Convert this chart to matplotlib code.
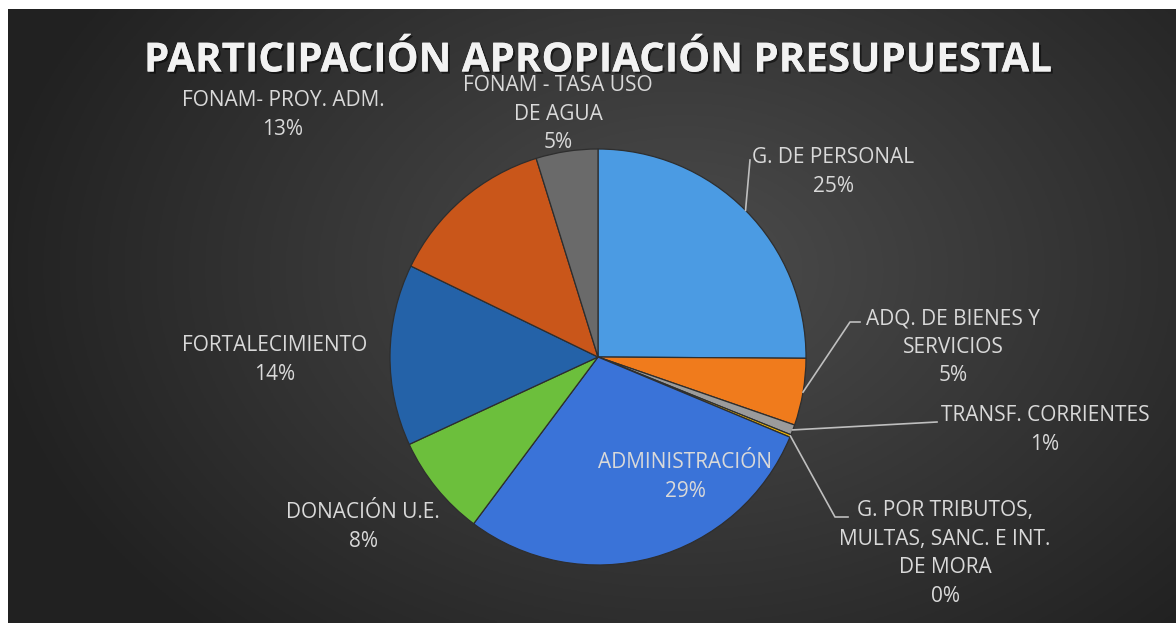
import numpy as np
import matplotlib.pyplot as plt
import matplotlib.patheffects as pe

# datos del gráfico
categorias = ["G. DE PERSONAL", "ADQ. DE BIENES Y\nSERVICIOS", "TRANSF. CORRIENTES",
              "G. POR TRIBUTOS,\nMULTAS, SANC. E INT.\nDE MORA", "ADMINISTRACIÓN",
              "DONACIÓN U.E.", "FORTALECIMIENTO", "FONAM- PROY. ADM.",
              "FONAM - TASA USO\nDE AGUA"]
valores = [25.1, 5.2, 0.8, 0.2, 28.9, 7.9, 14.1, 13.0, 4.8]
colores = ["#4b9be3", "#f07b1c", "#9b9b9b", "#f2b800", "#3a73d8",
           "#6cbf3c", "#2462a8", "#c9561a", "#6a6a6a"]

# posiciones de las etiquetas (pixeles, centro de la primera linea)
pos_etiquetas = [(833, 157), (953, 318), (1045, 415), (945, 510), (685, 462),
                 (363, 512), (275, 345), (283, 100), (558, 85)]
# lineas guia: (punto de quiebre, punto final)
guias = {0: [(750, 160)], 1: [(850, 322), (860, 322)], 2: [(937, 422)],
         3: [(835, 517), (848, 517)]}

W, H = 1176, 623
fig = plt.figure(figsize=(W / 100, H / 100), dpi=100)
fig.patch.set_facecolor("white")
ax = fig.add_axes([0, 0, 1, 1])

# fondo con degradado
yy, xx = np.mgrid[0:200, 0:400]
xx = xx / 400 * (W - 8) + 8
yy = yy / 200 * (H - 9)
d = np.sqrt(((xx - 680) / 700) ** 2 + ((yy - 260) / 500) ** 2)
fondo = np.clip(1 - d, 0, 1)
gris = 0.13 + 0.17 * fondo
img = np.dstack([gris, gris, gris])
ax.imshow(img, extent=[8, W, 0, H - 9], origin="upper", aspect="auto", zorder=0)

cx, cy, r = 598, H - 357, 208
wedges, _ = ax.pie(valores, colors=colores, startangle=90, counterclock=False,
                   center=(cx, cy), radius=r, frame=True,
                   wedgeprops=dict(edgecolor="#2e2e2e", linewidth=0.9))
for w in wedges:
    w.set_zorder(2)
ax.set_xlim(0, W)
ax.set_ylim(0, H)
ax.set_aspect("equal")
ax.axis("off")

# etiquetas
tot = sum(valores)
for i, (cat, v) in enumerate(zip(categorias, valores)):
    x, y = pos_etiquetas[i]
    txt = f"{cat}\n{round(v / tot * 100):.0f}%"
    ax.text(x, H - y + 10, txt, ha="center", va="top", fontsize=15,
            family="Open Sans", color="#d9d9d9", linespacing=1.48, zorder=5)

# lineas guia
for i, pts in guias.items():
    w = wedges[i]
    ang = np.deg2rad((w.theta1 + w.theta2) / 2)
    x0 = cx + r * np.cos(ang)
    y0 = cy + r * np.sin(ang)
    xs = [x0] + [p[0] for p in pts]
    ys = [y0] + [H - p[1] for p in pts]
    ax.plot(xs, ys, color="#bfbfbf", lw=1.2, zorder=4)

ax.text(598, H - 61, "PARTICIPACIÓN APROPIACIÓN PRESUPUESTAL", ha="center", va="center",
        fontsize=29, fontweight="bold", family="Open Sans", color="#f2f2f2", zorder=5,
        path_effects=[pe.withSimplePatchShadow(offset=(1.5, -1.5), shadow_rgbFace="black", alpha=0.5),
                      pe.Normal()])

fig.savefig("out.png", dpi=100, facecolor=fig.get_facecolor())
